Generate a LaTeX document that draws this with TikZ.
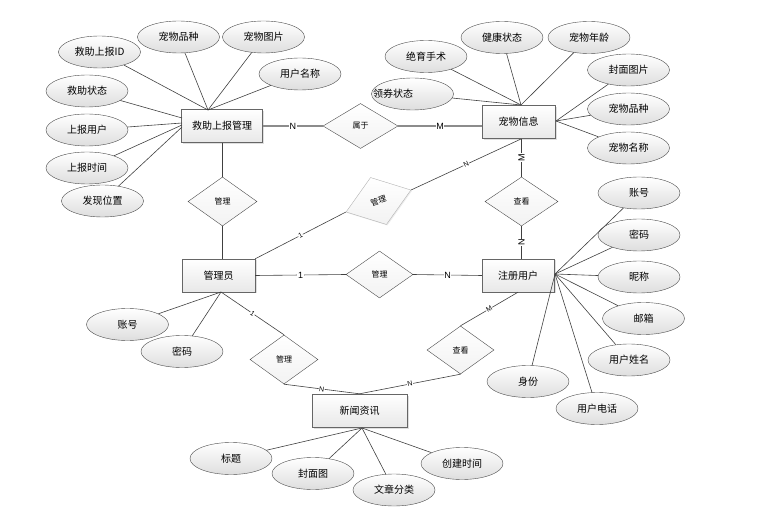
\documentclass[tikz,border=0pt]{standalone}
\usepackage{fontspec}
\setmainfont{Noto Sans CJK SC}
\newfontfamily\latinlbl{Liberation Sans}
\usetikzlibrary{shapes.geometric,shadows}
\begin{document}
\begin{tikzpicture}[x=1pt,y=-1pt,
 ent/.style={rectangle, draw=black!60, top color=white, bottom color=black!9, minimum width=73pt, minimum height=33pt, inner sep=0pt, font=\fontsize{10}{12}\selectfont, drop shadow={opacity=0.25, shadow xshift=1.5pt, shadow yshift=-1.5pt}},
 attr/.style={ellipse, draw=black!70, top color=white, bottom color=black!13, minimum width=82pt, minimum height=32pt, inner sep=0pt, font=\fontsize{10}{12}\selectfont},
 rel/.style={diamond, draw=black!70, top color=white, bottom color=black!5, minimum width=69pt, minimum height=49pt, inner sep=0pt, font=\fontsize{8}{9}\selectfont},
 conn/.style={draw=black!75, line width=0.6pt},
 gconn/.style={draw=black!45, line width=1.2pt},
 card/.style={font=\latinlbl\fontsize{9}{10}\selectfont, fill=white, inner sep=0.6pt},
 scard/.style={font=\latinlbl\fontsize{7}{8}\selectfont, fill=white, inner sep=0.4pt, sloped},
]
\useasboundingbox (0,0) rectangle (771,521);

% entities
\node[ent, minimum width=81pt] (jz) at (222,126) {救助上报管理};
\node[ent] (pet) at (518.5,122) {宠物信息};
\node[ent] (adm) at (218.5,275.5) {管理员};
\node[ent, minimum width=72pt] (reg) at (518,275.5) {注册用户};
\node[ent, minimum width=95pt] (news) at (359.5,410.5) {新闻资讯};

% relationships
\node[rel, minimum width=75pt, minimum height=45pt] (sy) at (360.5,126) {属于};
\node[rel] (g1) at (222.5,201.5) {管理};
\node[rel, rotate=18.7, minimum width=68.6pt, minimum height=49.7pt, draw=black!30, drop shadow={opacity=0.15, shadow xshift=1pt, shadow yshift=-1pt}] (g2) at (378.5,201) {管理};
\node[rel, minimum width=73pt] (ck1) at (521.5,201.5) {查看};
\node[rel, minimum width=67pt, minimum height=47pt] (g3) at (379.5,274.5) {管理};
\node[rel, minimum width=68pt] (g4) at (284,359.5) {管理};
\node[rel, minimum width=67pt, minimum height=48pt] (ck2) at (460.5,350) {查看};

% attributes of 救助上报管理
\node[attr] (a1) at (99.5,52) {救助上报ID};
\node[attr] (a2) at (178.5,37) {宠物品种};
\node[attr] (a3) at (263.5,37) {宠物图片};
\node[attr] (a4) at (300,74) {用户名称};
\node[attr] (a5) at (87,91) {救助状态};
\node[attr] (a6) at (87,130) {上报用户};
\node[attr] (a7) at (87,168) {上报时间};
\node[attr] (a8) at (102.5,201) {发现位置};

% attributes of 宠物信息
\node[attr] (p1) at (426,56.5) {绝育手术};
\node[attr] (p2) at (502,37.5) {健康状态};
\node[attr] (p3) at (589,37.5) {宠物年龄};
\node[attr] (p4) at (412.5,94) {};
\node[font=\fontsize{10}{12}\selectfont, inner sep=0pt] (p4t) at (393,94) {领券状态};
\node[attr] (p5) at (628.5,70) {封面图片};
\node[attr] (p6) at (628.5,109) {宠物品种};
\node[attr] (p7) at (628.5,148) {宠物名称};

% attributes of 管理员
\node[attr] (m1) at (127.5,324.5) {账号};
\node[attr] (m2) at (182,351.5) {密码};

% attributes of 新闻资讯
\node[attr] (n1) at (231,458.5) {标题};
\node[attr] (n2) at (313,473.5) {封面图};
\node[attr] (n3) at (394,490) {文章分类};
\node[attr] (n4) at (462,463.5) {创建时间};

% attributes of 注册用户
\node[attr] (r1) at (639,193) {账号};
\node[attr] (r2) at (639,235) {密码};
\node[attr] (r3) at (639,277) {昵称};
\node[attr] (r4) at (643.5,318.5) {邮箱};
\node[attr] (r5) at (629,360) {用户姓名};
\node[attr] (r6) at (528,381.5) {身份};
\node[attr] (r7) at (597,408.5) {用户电话};

% convergence points
\coordinate (jzT) at (208,110);
\coordinate (jzL1) at (182,118);
\coordinate (jzL2) at (182,123);
\coordinate (jzL3) at (182,125);
\coordinate (jzL4) at (182,127);
\coordinate (petT) at (521,105);
\coordinate (petR) at (556,121);
\coordinate (petS) at (521,139);
\coordinate (admB) at (221,292);
\coordinate (newsB) at (362,428);
\coordinate (regR) at (555,274);

% attribute lines
\foreach \a in {a1,a2,a3,a4} \draw[conn] (\a) -- (jzT);
\draw[conn] (a5) -- (jzL1);
\draw[conn] (a6) -- (jzL2);
\draw[conn] (a7) -- (jzL3);
\draw[conn] (a8) -- (jzL4);
\foreach \a in {p1,p2,p3,p4} \draw[conn] (\a) -- (petT);
\foreach \a in {p5,p6,p7} \draw[conn] (\a) -- (petR);
\foreach \a in {m1,m2} \draw[conn] (\a) -- (admB);
\foreach \a in {n1,n2,n3,n4} \draw[conn] (\a) -- (newsB);
\foreach \a in {r1,r2,r3,r4,r5,r6,r7} \draw[conn] (\a) -- (regR);

% relationship lines
\draw[gconn] (jz.east) -- node[card]{N} (sy.west);
\draw[gconn] (sy.east) -- node[card]{M} (sy.east -| pet.west);
\draw[conn] (g1.north) -- (g1.north |- jz.south);
\draw[conn] (g1.south) -- (g1.south |- adm.north);
\draw[conn] (ck1.north |- pet.south) -- node[card, rotate=90]{M} (ck1.north);
\draw[conn] (ck1.south) -- node[card, rotate=90]{N} (ck1.south |- reg.north);
\draw[conn] (petS) -- node[scard]{N} (g2.east);
\draw[conn] (g2.west) -- node[scard]{1} (adm.north east);
\draw[conn] (adm.east) -- node[card]{1} (g3.west);
\draw[conn] (g3.east) -- node[card]{N} (reg.west);
\draw[conn] (admB) -- node[scard]{1} (g4.north);
\draw[conn] (g4.south) -- node[scard]{N} (news.north);
\draw[conn] (reg.south) -- node[scard]{M} (ck2.north);
\draw[conn] (ck2.south) -- node[scard]{N} (news.north);
\end{tikzpicture}
\end{document}
